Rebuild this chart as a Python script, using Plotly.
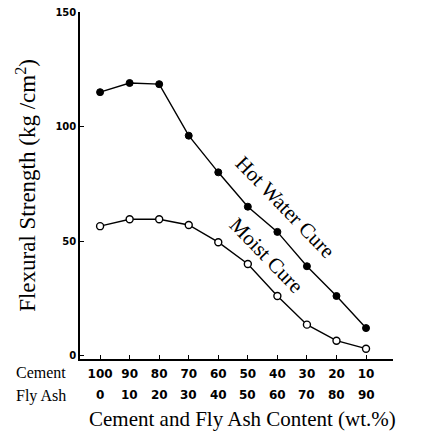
import plotly.graph_objects as go

# Mix proportions (wt.%)
cement = [100, 90, 80, 70, 60, 50, 40, 30, 20, 10]
fly_ash = [0, 10, 20, 30, 40, 50, 60, 70, 80, 90]

# Flexural strength (kg/cm2) for each curing condition
hot_water_cure = [115, 119, 118.5, 96, 80, 65, 54, 39, 26, 12]
moist_cure = [56.5, 59.5, 59.5, 57, 49.5, 40, 26, 13.5, 6.5, 3]

y_ticks = [0, 50, 100, 150]

SERIF = "Liberation Serif, Times New Roman, serif"
NUM = "DejaVu Sans"

fig = go.Figure()

fig.add_trace(go.Scatter(
    x=cement, y=hot_water_cure, mode="lines+markers",
    line=dict(color="black", width=1.4),
    marker=dict(symbol="circle", size=7, color="black",
                line=dict(color="black", width=1)),
    cliponaxis=False, showlegend=False,
))
fig.add_trace(go.Scatter(
    x=cement, y=moist_cure, mode="lines+markers",
    line=dict(color="black", width=1.4),
    marker=dict(symbol="circle", size=7, color="white",
                line=dict(color="black", width=1.4)),
    cliponaxis=False, showlegend=False,
))

annotations = []

# Second row of x labels: fly ash content
for c, f in zip(cement, fly_ash):
    annotations.append(dict(
        x=c, xref="x", y=0, yref="paper", yshift=-36,
        text=str(f), showarrow=False, xanchor="center", yanchor="middle",
        font=dict(family=NUM, size=12, color="black", weight="bold"),
    ))

# Row captions
annotations.append(dict(
    x=0, xref="paper", xshift=-66, y=0, yref="paper", yshift=-13,
    text="Cement", showarrow=False, xanchor="left", yanchor="middle",
    font=dict(family=SERIF, size=16, color="black"),
))
annotations.append(dict(
    x=0, xref="paper", xshift=-66, y=0, yref="paper", yshift=-37,
    text="Fly Ash", showarrow=False, xanchor="left", yanchor="middle",
    font=dict(family=SERIF, size=16, color="black"),
))

# Horizontal axis title, kept inside the bottom edge
annotations.append(dict(
    x=0.5, xref="paper", xshift=6, y=0, yref="paper", yshift=-74,
    text="Cement and Fly Ash Content (wt.%)", showarrow=False,
    xanchor="center", yanchor="bottom",
    font=dict(family=SERIF, size=21, color="black"),
))

# Curve labels along the lines
annotations.append(dict(
    x=37.4, y=64.8, xref="x", yref="y",
    text="Hot Water Cure", showarrow=False, textangle=46,
    font=dict(family=SERIF, size=21, color="black"),
))
annotations.append(dict(
    x=43.8, y=43.9, xref="x", yref="y",
    text="Moist Cure", showarrow=False, textangle=46,
    font=dict(family=SERIF, size=21, color="black"),
))

fig.update_layout(
    width=431, height=434,
    margin=dict(l=80, r=38, t=12, b=75),
    paper_bgcolor="white", plot_bgcolor="white",
    annotations=annotations,
    xaxis=dict(
        range=[106.8, 0.87], showgrid=False, zeroline=False,
        showline=True, linecolor="black", linewidth=1.5,
        tickvals=cement, ticktext=[str(c) for c in cement],
        ticks="inside", ticklen=4, tickcolor="black", tickwidth=1,
        ticklabelstandoff=3, automargin=False,
        tickfont=dict(family=NUM, size=12, color="black", weight="bold"),
    ),
    yaxis=dict(
        range=[-1.5, 150], showgrid=False, zeroline=False,
        showline=True, linecolor="black", linewidth=1.5,
        tickvals=y_ticks, ticktext=[str(v) for v in y_ticks],
        ticks="inside", ticklen=4, tickcolor="black", tickwidth=1,
        automargin=False,
        tickfont=dict(family=NUM, size=10, color="black", weight="bold"),
        title=dict(text="Flexural Strength (kg /cm<sup>2</sup>)",
                   font=dict(family=SERIF, size=23, color="black"),
                   standoff=13),
    ),
)

fig.write_html("out.html")
